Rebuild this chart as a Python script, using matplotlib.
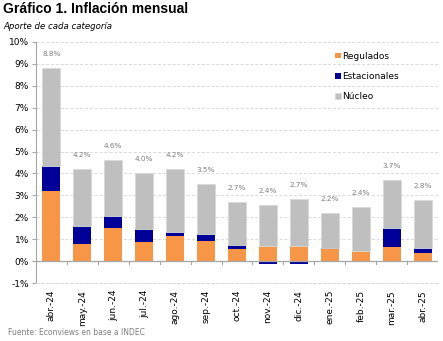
import matplotlib
matplotlib.use("Agg")
import matplotlib.pyplot as plt
from matplotlib import font_manager
import numpy as np

months = ["abr.-24", "may.-24", "jun.-24", "jul.-24", "ago.-24", "sep.-24", "oct.-24",
          "nov.-24", "dic.-24", "ene.-25", "feb.-25", "mar.-25", "abr.-25"]
regulados = [3.20, 0.78, 1.50, 0.85, 1.15, 0.90, 0.55, 0.70, 0.70, 0.55, 0.47, 0.65, 0.38]
estacionales = [1.15, 0.83, 0.55, 0.60, 0.18, 0.35, 0.17, -0.15, -0.15, 0.05, -0.05, 0.88, 0.20]
nucleo = [4.45, 2.59, 2.55, 2.55, 2.87, 2.25, 1.98, 1.85, 2.15, 1.60, 2.00, 2.17, 2.22]
totales = [8.8, 4.2, 4.6, 4.0, 4.2, 3.5, 2.7, 2.4, 2.7, 2.2, 2.4, 3.7, 2.8]
yticks = [-1, 0, 1, 2, 3, 4, 5, 6, 7, 8, 9, 10]

c_reg = "#F79646"
c_est = "#000099"
c_nuc = "#BFBFBF"
axis_gray = "#A6A6A6"

plt.rcParams["font.family"] = ["DejaVu Sans"]
names = {f.name for f in font_manager.fontManager.ttflist}
title_family = "Liberation Sans Narrow" if "Liberation Sans Narrow" in names else "Liberation Sans"

fig = plt.figure(figsize=(4.43, 3.41), dpi=100)
ax = fig.add_axes([0.081, 0.170, 0.908, 0.707])

x = np.arange(len(months))
reg = np.array(regulados)
est = np.array(estacionales)
nuc = np.array(nucleo)
w = 0.58

ax.bar(x, reg, w, color=c_reg, label="Regulados", zorder=3)
# seasonal goes on top of regulated when positive, below zero when negative
est_bottom = np.where(est >= 0, reg, 0.0)
ax.bar(x, est, w, bottom=est_bottom, color=c_est, label="Estacionales", zorder=3)
pos_top = reg + np.clip(est, 0, None)
ax.bar(x, nuc, w, bottom=pos_top, color=c_nuc, label="Núcleo", zorder=3,
       edgecolor="#D9D9D9", linewidth=0.6)

for xi, top, t in zip(x, pos_top + nuc, totales):
    ax.text(xi, top + 0.5, f"{t:.1f}%", ha="center", va="bottom",
            fontsize=5.2, color="#7F7F7F")

ax.set_xlim(-0.5, 12.5)
ax.set_ylim(-1, 10)
ax.set_yticks(yticks)
ax.set_yticklabels([f"{v}%" for v in yticks], fontsize=6.5)
ax.yaxis.grid(True, linestyle=(0, (3, 2)), color="#D9D9D9", linewidth=0.7, zorder=0)
ax.tick_params(axis="y", length=3, color=axis_gray, pad=2)

ax.set_xticks(x)
ax.set_xticklabels(months, rotation=90, fontsize=6.5)
ax.tick_params(axis="x", length=0, pad=5)
# category separators on the zero line
for b in np.arange(0.5, 12.5, 1.0):
    ax.plot([b, b], [0, -0.12], color=axis_gray, linewidth=0.8, zorder=4, clip_on=False)
ax.axhline(0, color=axis_gray, linewidth=0.9, zorder=4)

for s in ["top", "right"]:
    ax.spines[s].set_visible(False)
ax.spines["bottom"].set_color("#D9D9D9")
ax.spines["bottom"].set_linestyle((0, (3, 2)))
ax.spines["bottom"].set_linewidth(0.7)
ax.spines["left"].set_color(axis_gray)

leg = ax.legend(loc="upper left", bbox_to_anchor=(0.735, 0.975), frameon=False,
                fontsize=6.5, handlelength=0.6, handleheight=0.6, handletextpad=0.2,
                labelspacing=1.25, borderaxespad=0)

fig.text(0.007, 0.993, "Gráfico 1. Inflación mensual", fontsize=10, fontweight="bold",
         family=[title_family, "DejaVu Sans"], ha="left", va="top", color="#000000")
fig.text(0.007, 0.935, "Aporte de cada categoría", fontsize=6.2, style="italic",
         ha="left", va="top", color="#000000")
fig.text(0.018, 0.012, "Fuente: Econviews en base a INDEC", fontsize=5.5,
         ha="left", va="bottom", color="#7F7F7F")

fig.savefig("out.png", dpi=100)
